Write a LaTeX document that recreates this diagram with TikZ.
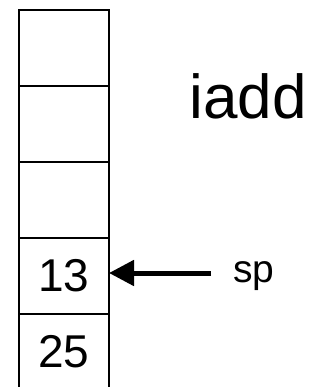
\documentclass[tikz,border=0pt]{standalone}
\usepackage{fontspec}
\setmainfont{Liberation Sans}
\usetikzlibrary{arrows.meta,positioning}

\begin{document}
\begin{tikzpicture}[
    x=1pt, y=1pt,
    cell/.style={draw, line width=1.3pt, outer sep=0pt, inner sep=0pt, minimum width=90pt, minimum height=76pt, font=\fontsize{46}{46}\selectfont},
    label/.style={inner sep=0pt, anchor=base},
    arrow/.style={-{Triangle[length=25pt, width=25pt]}, line width=5pt}
  ]
    \useasboundingbox (0,0) rectangle (321,-387);
    \node[cell] (c1) at (64,-48) {};
    \node[cell, below=0pt of c1] (c2) {};
    \node[cell, below=0pt of c2] (c3) {};
    \node[cell, below=0pt of c3] (c4) {13};
    \node[cell, below=0pt of c4] (c5) {25};

    \node[label, font=\fontsize{62}{62}\selectfont] (op) at (248,-119) {iadd};
    \node[label, font=\fontsize{39}{39}\selectfont] (sp) at (254,-282) {sp};

    \coordinate (sptail) at (211,-273);
    \draw[arrow] (sptail) -- (sptail -| c4.east);
  \end{tikzpicture}
\end{document}
